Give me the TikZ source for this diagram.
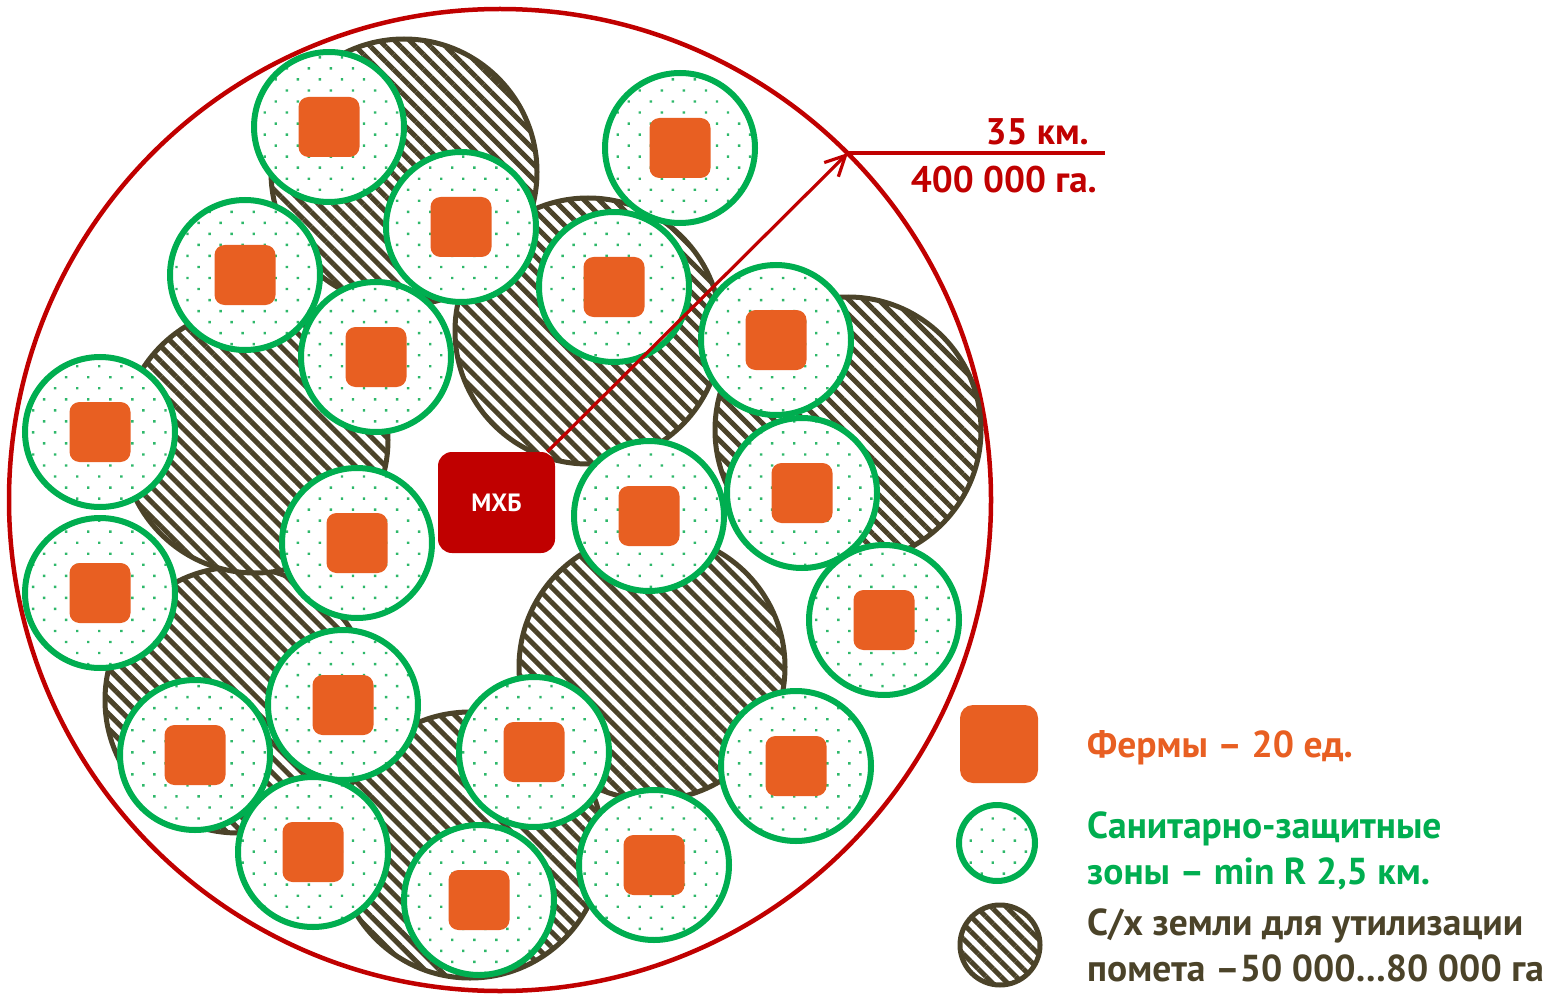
\documentclass[tikz,border=0pt]{standalone}
\usepackage{fontspec}
\setmainfont{PT Sans}
\usetikzlibrary{patterns.meta,arrows.meta}
\definecolor{redc}{HTML}{C00000}
\definecolor{farmc}{HTML}{E85F22}
\definecolor{zonec}{HTML}{00AE50}
\definecolor{dotc}{HTML}{2EB86A}
\definecolor{landc}{HTML}{4B4329}
\tikzset{
  land/.style={circle, inner sep=0pt, minimum size=266pt, preaction={fill=white},
    pattern={Lines[angle=-45,distance=10.6pt,line width=5pt]}, pattern color=landc,
    draw=landc, line width=5pt},
  zone/.style={circle, inner sep=0pt, minimum size=150pt, preaction={fill=white},
    pattern={Dots[radius=1.7pt,distance=15.6pt,angle=45]}, pattern color=dotc,
    draw=zonec, line width=6pt},
  farm/.style={rectangle, inner sep=0pt, minimum width=61pt, minimum height=60pt,
    rounded corners=10pt, fill=farmc},
  legtext/.style={anchor=base west, font=\bfseries\fontsize{37.5}{40}\selectfont, inner sep=0pt},
  redtext/.style={anchor=base east, font=\bfseries\fontsize{37}{40}\selectfont, inner sep=0pt, text=redc}
}
\begin{document}
\begin{tikzpicture}[x=1pt,y=-1pt]
\useasboundingbox (0,0) rectangle (1556,995);
% outer ring
\node[circle, inner sep=0pt, minimum size=982pt, draw=redc, line width=4.5pt] (ring) at (500,500) {};
% farmland
\node[land] (h6) at (238,700) {};
\node[land] (h4) at (255,440) {};
\node[land] (h1) at (404,172) {};
\node[land] (h2) at (588,331) {};
\node[land] (h3) at (848,430) {};
\node[land] (h5) at (652,667) {};
\node[land] (h7) at (470,845) {};
% zones and farms
\foreach \n/\x/\y in {1/329/127, 2/680/148, 3/461/227, 4/245/275, 5/614/287, 6/376/357,
  7/776/340, 8/100/432, 9/357/543, 10/649/516, 11/802/493, 12/100/593, 13/884/620,
  14/343/705, 15/534/752, 16/195/755, 17/796/766, 18/313/852, 19/654/865, 20/479/900}{
  \node[zone] (z\n) at (\x,\y) {};
  \node[farm] (f\n) at (z\n) {};
}
% MXB
\node[rectangle, rounded corners=14pt, fill=redc, minimum width=117pt, minimum height=101pt,
  inner sep=0pt, text=white, font=\bfseries\fontsize{25}{28}\selectfont] (mxb) at (496.5,502.5) {МХБ};
% radius arrow
\coordinate (tip) at (848,153);
\coordinate (lend) at (1105,153);
\draw[redc, line width=3.2pt, -{Straight Barb[length=20pt,width=20pt,line width=3.2pt]}] (mxb) -- (tip);
\draw[redc, line width=3.2pt] (tip) -- (lend);
\node[redtext] (km) at (1089,145) {35 км.};
\node[redtext] (ha) at (1097,193) {400 000 га.};
% legend
\node[farm, minimum width=78pt, minimum height=78pt, rounded corners=13pt] (lf) at (999,744) {};
\node[zone, minimum size=76pt] (lz) at (997,843) {};
\node[land, minimum size=80pt] (ll) at (1000,945) {};
\node[legtext, text=farmc] (t1) at (1087,757) {Фермы – 20 ед.};
\node[legtext, text=zonec] (t2) at (1087,838) {Санитарно-защитные};
\node[legtext, text=zonec] (t3) at (1087,884) {зоны – min R 2,5 км.};
\node[legtext, text=landc] (t4) at (1087,935) {С/х земли для утилизации};
\node[legtext, text=landc] (t5) at (1087,981) {помета –50 000…80 000 га};
\end{tikzpicture}
\end{document}
